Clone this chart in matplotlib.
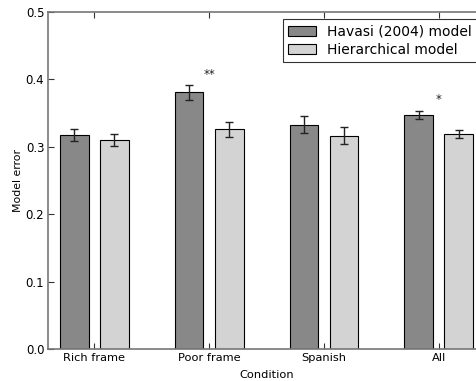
import matplotlib

matplotlib.use("Agg")
import matplotlib.pyplot as plt
import numpy as np

conditions = ["Rich frame", "Poor frame", "Spanish", "All"]
havasi_mean = [0.3175, 0.381, 0.333, 0.3467]
havasi_err = [0.009, 0.011, 0.0125, 0.006]
hier_mean = [0.310, 0.326, 0.3165, 0.3185]
hier_err = [0.0085, 0.011, 0.0125, 0.006]
# significance markers: (condition index, label, y)
sig_marks = [(1, "**", 0.408), (3, "*", 0.370)]

W, H = 477, 381
fig = plt.figure(figsize=(W / 100, H / 100), dpi=100)
# axes runs slightly past the right edge of the image, like the original crop
ax = fig.add_axes([48.5 / W, 1 - 349 / H, (484.6 - 48.5) / W, (349 - 12) / H])

x = np.arange(len(conditions))
width = 0.25
ekw = dict(ecolor="#222222", elinewidth=1.0, capsize=3, capthick=1.0)
ax.bar(x - 0.3, havasi_mean, width, align="edge", color="#888888",
       edgecolor="black", linewidth=0.8, yerr=havasi_err, error_kw=ekw,
       label="Havasi (2004) model")
ax.bar(x + 0.05, hier_mean, width, align="edge", color="#d3d3d3",
       edgecolor="black", linewidth=0.8, yerr=hier_err, error_kw=ekw,
       label="Hierarchical model")

for i, lab, y in sig_marks:
    ax.text(i, y, lab, ha="center", va="center", fontsize=8.5, color="#222222")

ax.set_xlim(-0.4, 3.4)
ax.set_ylim(0, 0.5)
ax.set_xticks(x)
ax.set_xticklabels(conditions, fontsize=8.2)
ax.set_yticks([0.0, 0.1, 0.2, 0.3, 0.4, 0.5])
ax.set_yticklabels(["0.0", "0.1", "0.2", "0.3", "0.4", "0.5"], fontsize=8.5)
ax.tick_params(direction="in", top=True, right=True, length=4, pad=3,
               color="#333333")
for s in ax.spines.values():
    s.set_color("#777777")
    s.set_linewidth(1.2)
ax.set_xlabel("Condition", fontsize=8.2, labelpad=5)
ax.set_ylabel("Model error", fontsize=7.8, labelpad=2)

leg = ax.legend(loc="upper right", fontsize=10, fancybox=False,
                handlelength=2.0, borderpad=0.4, labelspacing=0.3)
leg.get_frame().set_edgecolor("black")
leg.get_frame().set_linewidth(0.8)

fig.savefig("out.png", dpi=100)
